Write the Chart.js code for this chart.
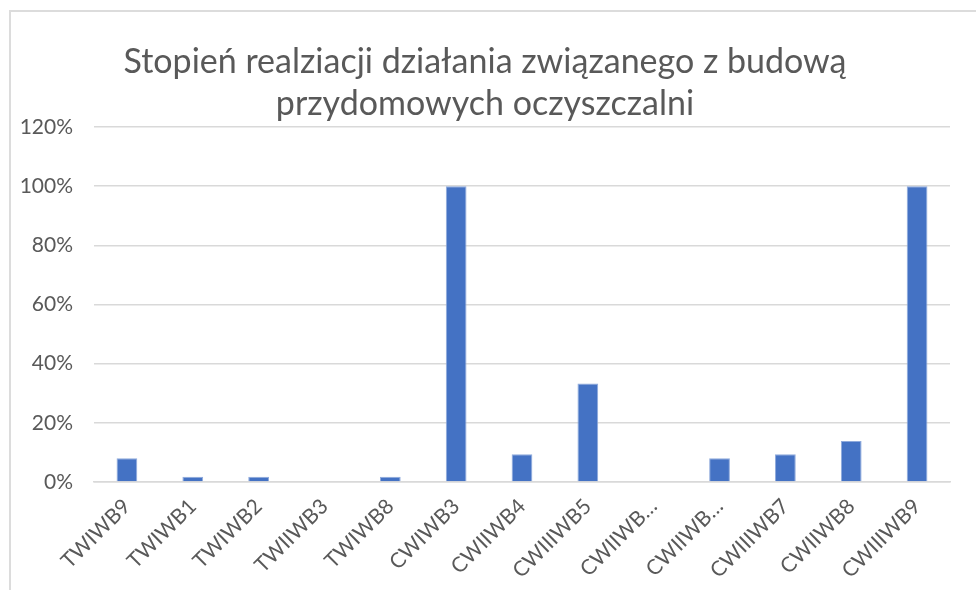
<!DOCTYPE html>
<html>
<head>
<meta charset="utf-8">
<script src="https://cdn.jsdelivr.net/npm/chart.js@4"></script>
<style>
  body { margin: 0; background: #fff; overflow: hidden; }
  .frame {
    position: absolute;
    left: 9px;
    top: 10px;
    width: 1000px;
    height: 600px;
    border: 2px solid #dcdcdc;
  }
</style>
</head>
<body>
<div class="frame">
  <canvas id="myChart" width="980" height="578"></canvas>
</div>
<script>
const categories = ['TWIWB9', 'TWIWB1', 'TWIWB2', 'TWIIWB3', 'TWIWB8', 'CWIWB3', 'CWIIWB4',
  'CWIIIWB5', 'CWIIWB…', 'CWIIWB…', 'CWIIIWB7', 'CWIIWB8', 'CWIIIWB9'];
const values = [8, 1.8, 1.8, 0, 1.8, 100, 9.4, 33.3, 0, 8, 9.4, 13.9, 100];
const titleLines = ['Stopień realziacji działania związanego z budową', 'przydomowych oczyszczalni'];

const ctx = document.getElementById('myChart');

new Chart(ctx, {
  type: 'bar',
  data: {
    labels: categories,
    datasets: [{
      data: values,
      backgroundColor: '#4472C4',
      borderColor: '#8faadc',
      borderWidth: 1,
      barPercentage: 0.63,
      categoryPercentage: 0.5
    }]
  },
  options: {
    responsive: false,
    animation: false,
    layout: {
      padding: { left: 9, right: 41, top: 0, bottom: 0 }
    },
    plugins: {
      legend: { display: false },
      tooltip: { enabled: false },
      title: {
        display: true,
        text: titleLines,
        color: '#595959',
        font: { family: 'Lato', size: 34, weight: 'normal', lineHeight: 1.235 },
        padding: { top: 29, bottom: 2 }
      }
    },
    scales: {
      y: {
        min: 0,
        max: 120,
        ticks: {
          stepSize: 20,
          color: '#595959',
          font: { family: 'Lato', size: 21 },
          padding: 21,
          callback: v => v + '%'
        },
        grid: { color: '#d9d9d9', lineWidth: 1.5, drawTicks: false },
        border: { display: false },
        afterFit: axis => { axis.width = 74; }
      },
      x: {
        ticks: {
          color: '#595959',
          font: { family: 'Lato', size: 21 },
          minRotation: 45,
          maxRotation: 45,
          padding: 4
        },
        grid: { display: false },
        border: { color: '#d9d9d9', width: 1.5 },
        afterFit: axis => { axis.height = 108; }
      }
    }
  }
});
</script>
</body>
</html>
